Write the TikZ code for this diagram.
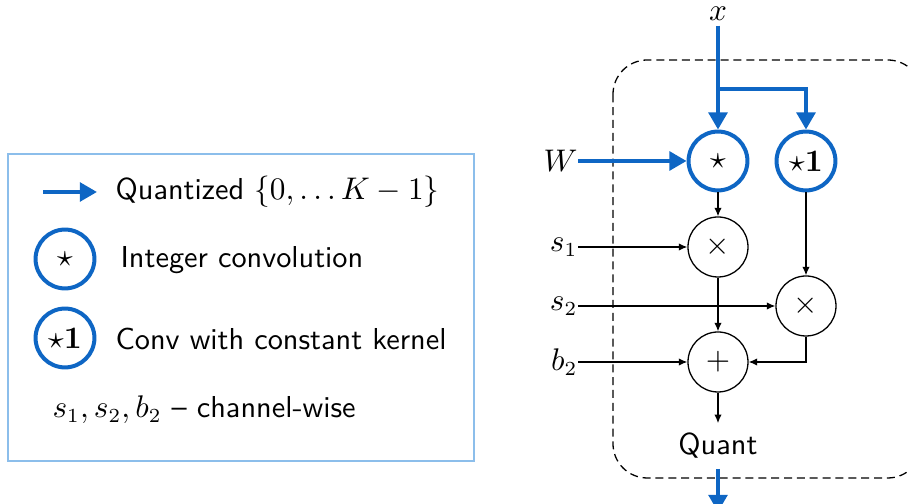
\documentclass[tikz,border=0pt]{standalone}
\usepackage{amsmath, amssymb}
\usetikzlibrary{
  positioning,
  arrows.meta
}
\definecolor{qblue}{RGB}{14,102,196}
\definecolor{legendblue}{RGB}{140,190,235}

\begin{document}
\begin{tikzpicture}[
  x=0.35pt, y=-0.35pt,
  every node/.style={font=\sffamily\fontsize{10.6}{13}\selectfont},
  qconv/.style={draw=qblue, circle, line width=1.4pt, minimum size=20.6pt, inner sep=0pt},
  op/.style={draw, circle, line width=0.45pt, minimum size=21pt, inner sep=0pt},
  var/.style={inner sep=0pt},
  legtext/.style={anchor=west, inner sep=0pt},
  qarrow/.style={draw=qblue, line width=1.4pt, -{Triangle[length=6pt,width=6.5pt]}},
  arrow/.style={line width=0.45pt, -{Latex[length=3pt,width=2.6pt]}}
]
\useasboundingbox (0,0) rectangle (909,504);

% Block
\draw[line width=0.45pt, dash pattern=on 2.8pt off 1.7pt, rounded corners=12pt] (613,60) rectangle (922,478);

% Nodes
\node[var] (xin) at (718,14) {$x$};
\coordinate (split) at (718,89);
\node[qconv] (star) at (718,161) {$\star$};
\node[qconv] (onestar) at (806,161) {$\star\mathbf{1}$};
\node[var, anchor=east] (w) at (578,161) {$W$};
\node[op] (mul1) at (718,247) {$\times$};
\node[op] (mul2) at (806,306) {$\times$};
\node[op] (add) at (718,362) {$+$};
\node[var, anchor=east] (s1) at (578,247) {$s_1$};
\node[var, anchor=east] (s2) at (578,306) {$s_2$};
\node[var, anchor=east] (b2) at (578,362) {$b_2$};
\node (quant) at (718,446) {Quant};
\coordinate (out) at (718,512);

% Arrows
\draw[qarrow] ([yshift=-1.5pt]xin.south) -- (star);
\draw[qarrow] (split) -| (onestar);
\draw[qarrow] (w) -- (star);
\draw[arrow] (star) -- (mul1);
\draw[arrow] (onestar) -- (mul2);
\draw[arrow] (s1) -- (mul1);
\draw[arrow] (s2) -- (mul2);
\draw[arrow] (b2) -- (add);
\draw[arrow] (mul1) -- (add);
\draw[arrow] (mul2) |- (add);
\draw[arrow] (add) -- (quant);
\draw[qarrow] (quant) -- (out);

% Legend
\draw[legendblue, line width=0.4pt] (8,154) rectangle (474,461);
\coordinate (legA) at (43,192);
\coordinate (legB) at (97,192);
\draw[qarrow] (legA) -- (legB);
\node[legtext] (quantized) at (115,192) {Quantized $\{0,\dots K-1\}$};
\node[qconv] (legstar) at (65,259) {$\star$};
\node[legtext] (intconv) at (120,260) {Integer convolution};
\node[qconv] (legone) at (65,338) {$\star\mathbf{1}$};
\node[legtext] (constconv) at (115,339) {Conv with constant kernel};
\node[legtext] (chwise) at (52,410) {$s_1, s_2, b_2$ -- channel-wise};

\end{tikzpicture}
\end{document}
